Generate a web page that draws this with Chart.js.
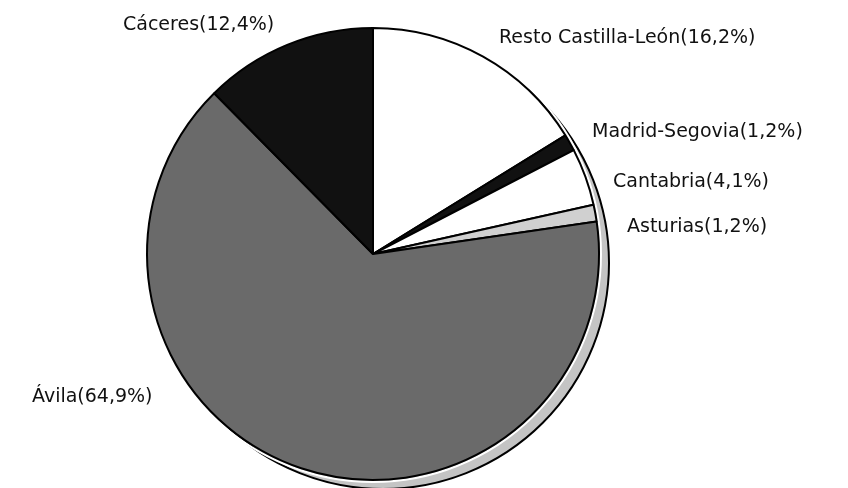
<!DOCTYPE html>
<html>
<head>
<meta charset="utf-8">
<script src="https://cdn.jsdelivr.net/npm/chart.js@4/dist/chart.umd.min.js"></script>
<style>
  html, body { margin: 0; padding: 0; background: #ffffff; }
  #wrap { width: 848px; height: 488px; position: relative; }
</style>
</head>
<body>
<div id="wrap"><canvas id="c" width="848" height="488"></canvas></div>
<script>
// Data (clockwise from 12 o'clock)
const categories = ["Resto Castilla-León", "Madrid-Segovia", "Cantabria", "Asturias", "Ávila", "Cáceres"];
const shares = [16.2, 1.2, 4.1, 1.2, 64.9, 12.4];
const labelTexts = ["Resto Castilla-León(16,2%)", "Madrid-Segovia(1,2%)", "Cantabria(4,1%)", "Asturias(1,2%)", "Ávila(64,9%)", "Cáceres(12,4%)"];

// Styling (kept apart from data)
const sliceColors = ["#ffffff", "#111111", "#ffffff", "#d0d0d0", "#6a6a6a", "#111111"];
const labelPlacement = [
  { x: 499, y: 38 },
  { x: 592, y: 132 },
  { x: 613, y: 182 },
  { x: 627, y: 227 },
  { x: 32,  y: 397 },
  { x: 123, y: 25 }
];
const depthOffset = { dx: 10, dy: 9 };

const depthPlugin = {
  id: 'depthRim',
  beforeDatasetsDraw(chart) {
    const arc = chart.getDatasetMeta(0).data[0];
    if (!arc) return;
    const ctx = chart.ctx;
    ctx.save();
    ctx.beginPath();
    ctx.arc(arc.x + depthOffset.dx, arc.y + depthOffset.dy, arc.outerRadius, 0, Math.PI * 2);
    ctx.fillStyle = '#c4c4c4';
    ctx.fill();
    ctx.lineWidth = 2;
    ctx.strokeStyle = '#000000';
    ctx.stroke();
    // thin white separation just outside the pie edge
    ctx.beginPath();
    ctx.arc(arc.x, arc.y, arc.outerRadius + 2, 0, Math.PI * 2);
    ctx.lineWidth = 2;
    ctx.strokeStyle = '#ffffff';
    ctx.stroke();
    ctx.restore();
  }
};

const labelPlugin = {
  id: 'freeLabels',
  afterDraw(chart) {
    const ctx = chart.ctx;
    ctx.save();
    ctx.font = '19px "DejaVu Sans", sans-serif';
    ctx.fillStyle = '#111111';
    ctx.textAlign = 'left';
    ctx.textBaseline = 'middle';
    labelTexts.forEach((t, i) => {
      const p = labelPlacement[i];
      ctx.fillText(t, p.x, p.y);
    });
    ctx.restore();
  }
};

new Chart(document.getElementById('c'), {
  type: 'pie',
  data: {
    labels: categories,
    datasets: [{
      data: shares,
      backgroundColor: sliceColors,
      borderColor: '#000000',
      borderWidth: 2,
      borderAlign: 'center'
    }]
  },
  options: {
    responsive: false,
    animation: false,
    events: [],
    layout: { padding: { left: 146, right: 248, top: 27, bottom: 7 } },
    plugins: {
      legend: { display: false },
      tooltip: { enabled: false },
      title: { display: false }
    }
  },
  plugins: [depthPlugin, labelPlugin]
});
</script>
</body>
</html>
